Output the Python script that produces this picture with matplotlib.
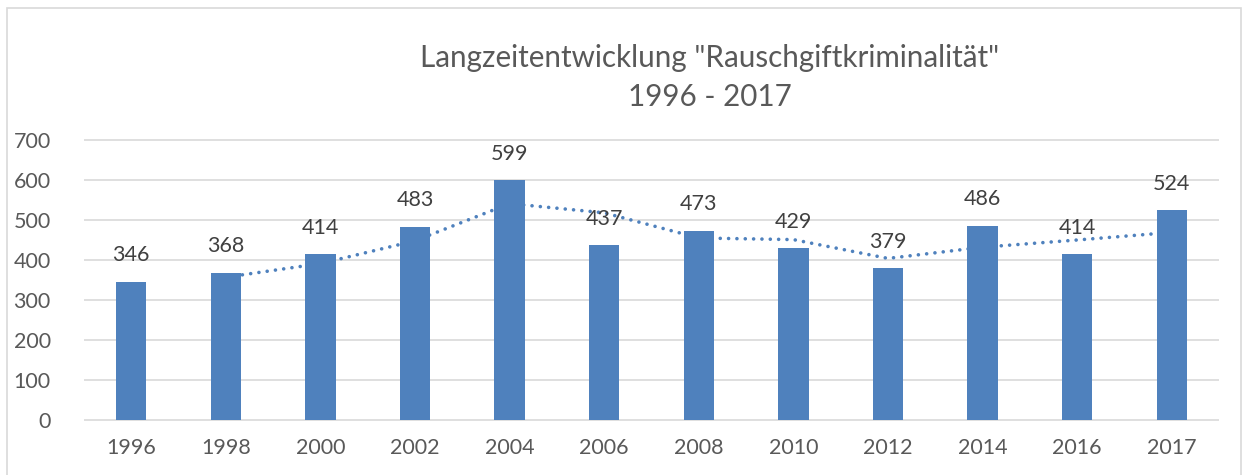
import matplotlib
matplotlib.use('Agg')
import matplotlib.pyplot as plt
from matplotlib.patches import Rectangle

# --- Data ---
years = ["1996", "1998", "2000", "2002", "2004", "2006",
         "2008", "2010", "2012", "2014", "2016", "2017"]
cases = [346, 368, 414, 483, 599, 437, 473, 429, 379, 486, 414, 524]
# dotted trend line (2-period moving average), starts at 1998
trend_start = 1
trend = [357, 391, 448, 541, 518, 455, 451, 404, 432, 450, 469]
yticks = [0, 100, 200, 300, 400, 500, 600, 700]

BAR = "#4f81bd"
GRID = "#d9d9d9"
TXT = "#595959"

plt.rcParams['font.family'] = ['Lato', 'DejaVu Sans']

W, H = 1248, 475
fig = plt.figure(figsize=(W / 100, H / 100), dpi=100)

# outer chart frame
fig.patches.append(Rectangle((7 / W, -0.1), (1241 - 7) / W, 1.1 - 8 / H,
                             transform=fig.transFigure, fill=False,
                             edgecolor=GRID, linewidth=1.2))

# plot area in pixel coords: x 84..1219, y(top) 140..420
ax = fig.add_axes([84 / W, (H - 420) / H, (1219 - 84) / W, 280 / H])
x = list(range(len(years)))

ax.set_xlim(-0.5, len(years) - 0.5)
ax.set_ylim(0, 700)
for s in ax.spines.values():
    s.set_visible(False)

ax.hlines(yticks, -0.5, len(years) - 0.5, color=GRID, lw=1.2,
          zorder=0, clip_on=False)

tx = x[trend_start:trend_start + len(trend)]
ax.plot(tx, trend, color=BAR, lw=2.6, linestyle=(0, (0.01, 2.3)),
        dash_capstyle='round', zorder=1)

ax.bar(x, cases, width=0.32, color=BAR, zorder=2)

for xi, v in zip(x, cases):
    ax.annotate(str(v), (xi, v), xytext=(0, 12), textcoords='offset points',
                ha='center', va='bottom', fontsize=15.5, color="#404040")

ax.set_yticks(yticks)
ax.set_xticks(x)
ax.set_xticklabels(years)
ax.tick_params(axis='both', length=0, labelsize=15.5, colors=TXT)
ax.tick_params(axis='y', pad=24)
ax.tick_params(axis='x', pad=13)

fig.text(710 / W, 1 - 58 / H, 'Langzeitentwicklung "Rauschgiftkriminalität"',
         ha='center', va='center', fontsize=21.3, color=TXT)
fig.text(710 / W, 1 - 97 / H, '1996 - 2017',
         ha='center', va='center', fontsize=21.3, color=TXT)

fig.savefig("out.png", dpi=100)
plt.close(fig)
